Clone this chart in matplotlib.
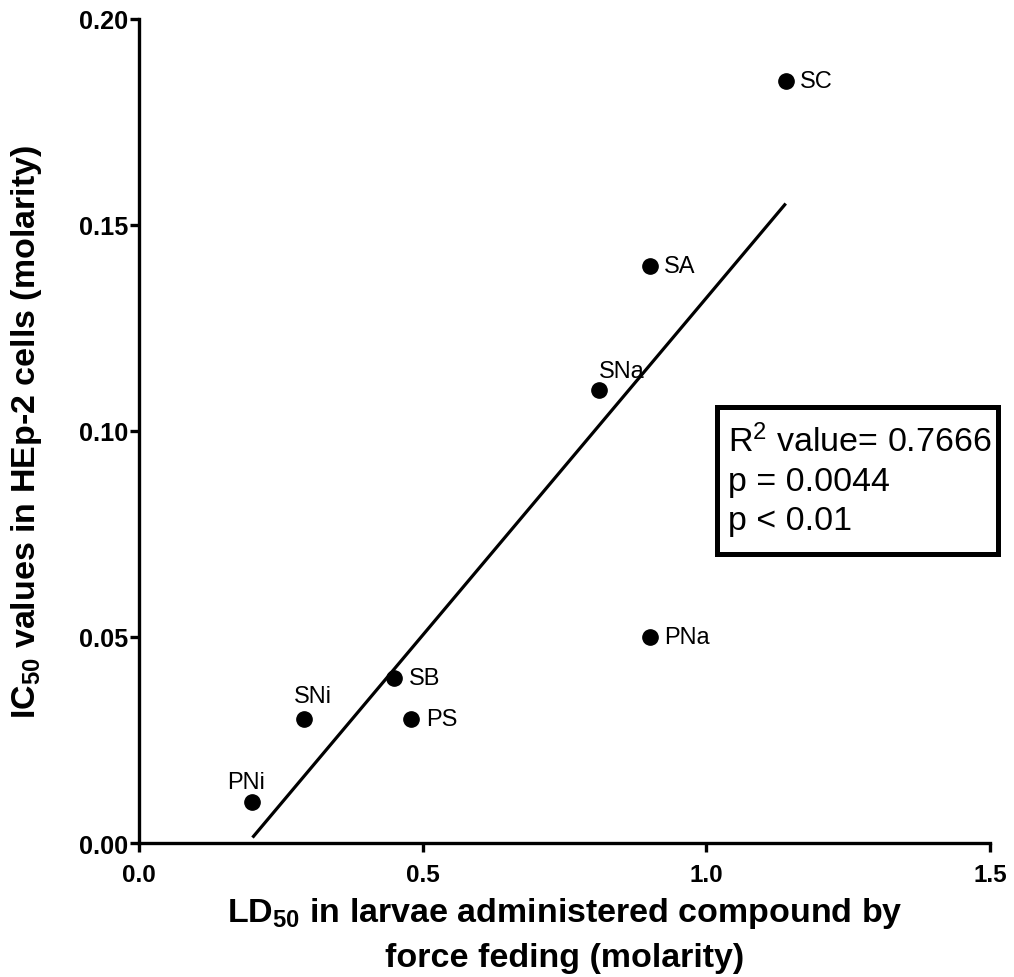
import numpy as np
import matplotlib
matplotlib.use("Agg")
import matplotlib.pyplot as plt
from matplotlib.patches import Rectangle

plt.rcParams['font.family'] = ['Liberation Sans', 'DejaVu Sans']
plt.rcParams['mathtext.fontset'] = 'custom'
plt.rcParams['mathtext.rm'] = 'Liberation Sans'
plt.rcParams['mathtext.bf'] = 'Liberation Sans:bold'
plt.rcParams['mathtext.it'] = 'Liberation Sans:italic'

# Compounds: LD50 (force feeding) vs IC50 in HEp-2 cells, both molarity
compounds = ["SC", "SA", "SNa", "PNa", "SB", "PS", "SNi", "PNi"]
ld50 = [1.14, 0.90, 0.81, 0.90, 0.45, 0.48, 0.29, 0.20]
ic50 = [0.185, 0.14, 0.11, 0.05, 0.04, 0.03, 0.03, 0.01]

x_ticks = [0.0, 0.5, 1.0, 1.5]
y_ticks = [0.00, 0.05, 0.10, 0.15, 0.20]

# label placement (offset in points from the marker centre, horizontal alignment)
label_offsets = {
    "SC": (10.5, 0, 'left'), "SA": (10.5, 0, 'left'), "PNa": (10.5, 0, 'left'),
    "SB": (10.5, 0, 'left'), "PS": (10.5, 0, 'left'),
    "SNa": (0.5, 13.5, 'left'), "SNi": (6.5, 16.5, 'center'), "PNi": (-4.5, 14.5, 'center'),
}

fig = plt.figure(figsize=(10.14, 9.78), dpi=100)
ax = fig.add_axes([0.1371, 0.137, 0.8392, 0.8426])

x = np.array(ld50)
y = np.array(ic50)
slope, intercept = np.polyfit(x, y, 1)
xl = np.array([x.min(), x.max()])
ax.plot(xl, slope * xl + intercept, color='black', lw=2.3, solid_capstyle='butt', zorder=2)

ax.plot(x, y, 'o', color='black', ms=11, zorder=3, clip_on=False)

for name, xi, yi in zip(compounds, ld50, ic50):
    dx, dy, ha = label_offsets[name]
    ax.annotate(name, (xi, yi), xytext=(dx, dy), textcoords='offset points',
                ha=ha, va='center', fontsize=17)

ax.set_xlim(0, 1.5)
ax.set_ylim(0, 0.20)
ax.set_xticks(x_ticks)
ax.set_xticklabels([f"{v:.1f}" for v in x_ticks])
ax.set_yticks(y_ticks)
ax.set_yticklabels([f"{v:.2f}" for v in y_ticks])

for s in ['top', 'right']:
    ax.spines[s].set_visible(False)
for s in ['left', 'bottom']:
    ax.spines[s].set_linewidth(2.4)
ax.tick_params(direction='out', length=6.5, width=2.4)
ax.tick_params(axis='y', labelsize=18.2, pad=1.5)
ax.tick_params(axis='x', labelsize=17.5, pad=8)
for lab in ax.get_xticklabels() + ax.get_yticklabels():
    lab.set_fontweight('bold')

ax.set_ylabel(r"IC$_{\mathbf{50}}$ values in HEp-2 cells (molarity)",
              fontsize=24.5, fontweight='bold')
ax.yaxis.label.set_va('center')
ax.yaxis.set_label_coords(-0.132, 0.5)

ax.set_xlabel("LD$_{\\mathbf{50}}$ in larvae administered compound by\nforce feding (molarity)",
              fontsize=24.5, fontweight='bold', linespacing=1.5)
ax.xaxis.label.set_va('center')
ax.xaxis.set_label_coords(0.5, -0.1105)

# statistics box
ax.add_patch(Rectangle((0.679, 0.3507), 0.3305, 0.1783, transform=ax.transAxes,
                       facecolor='white', edgecolor='black', linewidth=3.6,
                       clip_on=False, zorder=4))
ax.text(0.692, 0.4405, "R$^{2}$ value= 0.7666\np = 0.0044\np < 0.01",
        transform=ax.transAxes, fontsize=24.5, ha='left', va='center',
        linespacing=1.33, zorder=5)

fig.savefig("out.png", dpi=100)
